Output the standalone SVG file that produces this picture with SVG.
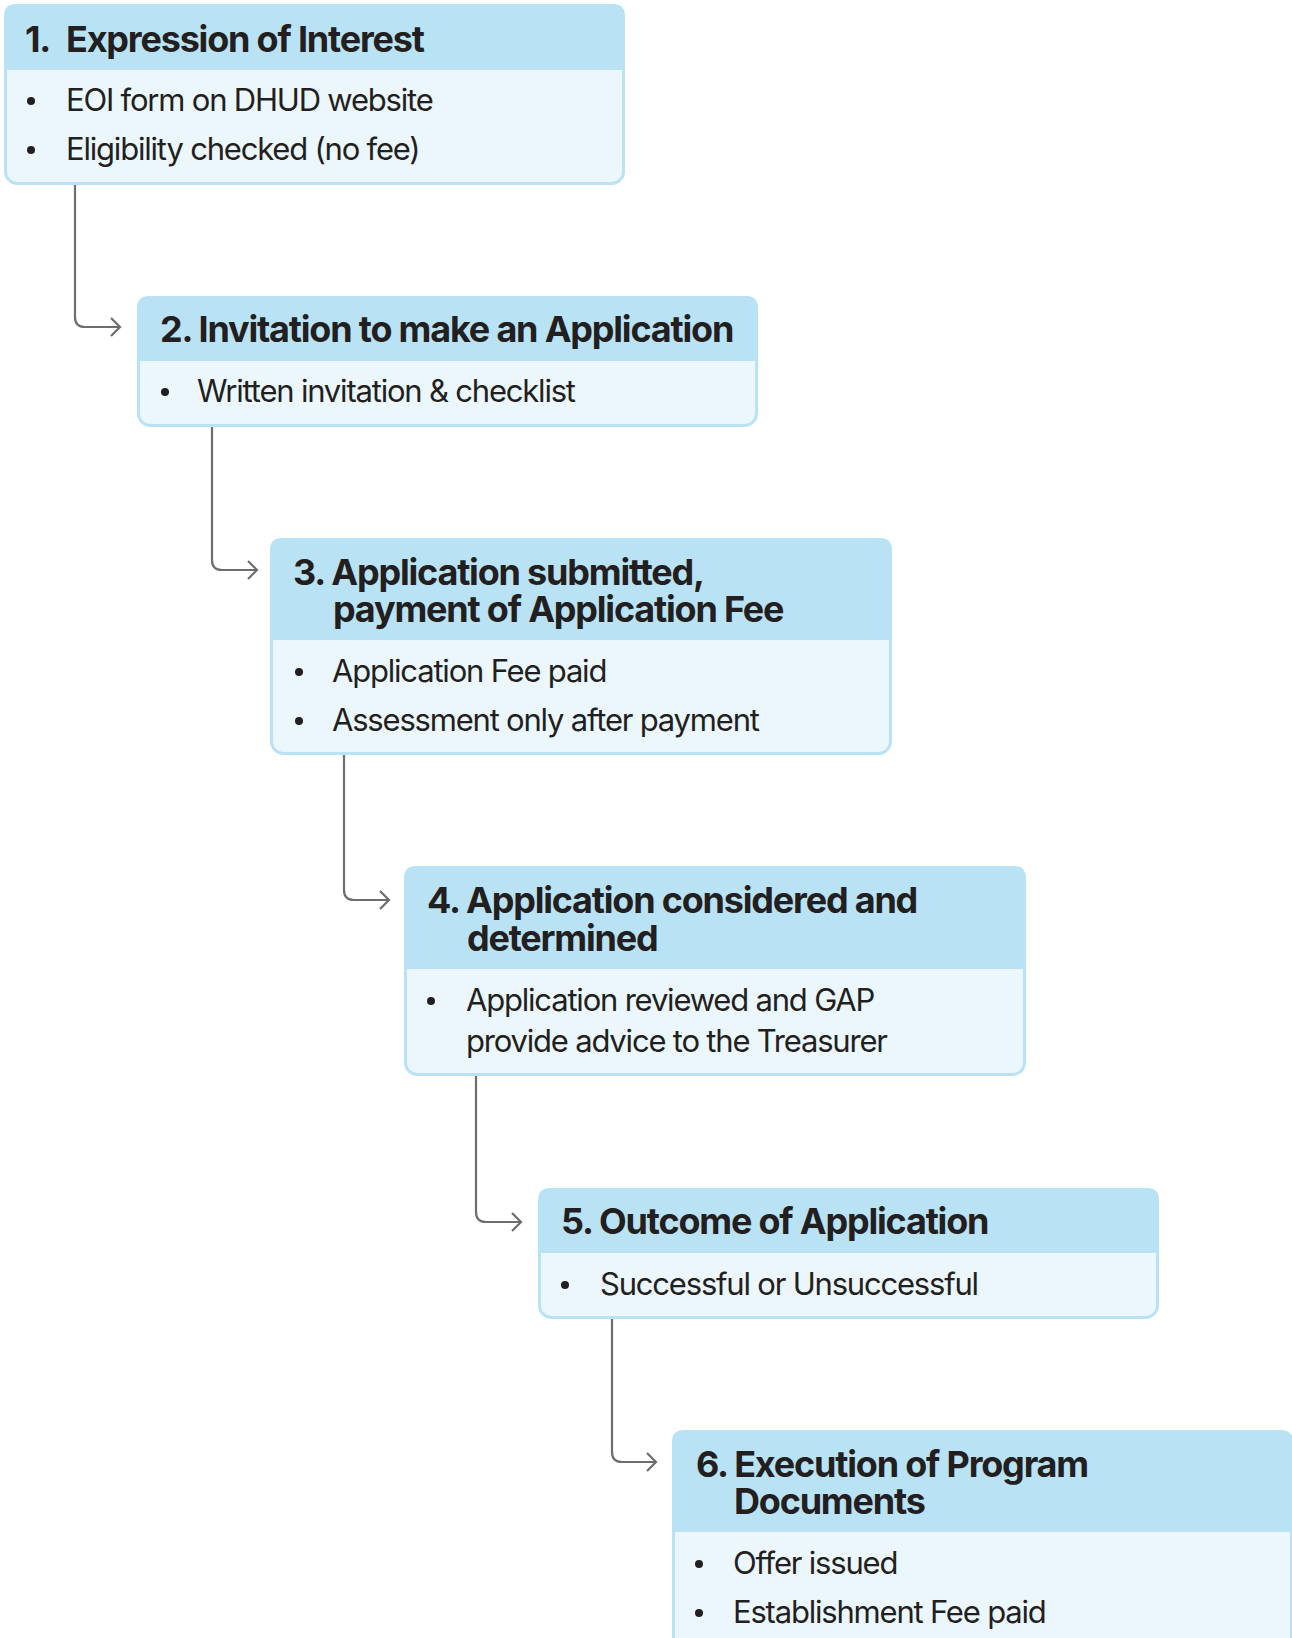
<svg xmlns="http://www.w3.org/2000/svg" width="1292" height="1638" viewBox="0 0 1292 1638">
<defs>
<style>
.body{fill:#ebf7fd;stroke:#b9e3f5;stroke-width:3}
.head{fill:#b9e3f5}
.t{font-family:Inter,"Liberation Sans",sans-serif;font-weight:700;font-size:36px;fill:#231f20;letter-spacing:-1.2px}
.b{font-family:Inter,"Liberation Sans",sans-serif;font-weight:400;font-size:31px;fill:#231f20;letter-spacing:-1.2px}
.dot{fill:#231f20}
.con{fill:none;stroke:#6d6d6d;stroke-width:2.2}
</style>
<marker id="arr" markerWidth="14" markerHeight="22" refX="12" refY="11" orient="auto" markerUnits="userSpaceOnUse">
<path d="M3,2 L12,11 L3,20" fill="none" stroke="#6d6d6d" stroke-width="2.2"/>
</marker>
</defs>

<g id="connectors">
<path class="con" d="M75,185 V317 Q75,327 85,327 H120" marker-end="url(#arr)"/>
<path class="con" d="M212,427 V560 Q212,570 222,570 H257" marker-end="url(#arr)"/>
<path class="con" d="M344,755 V890 Q344,900 354,900 H389" marker-end="url(#arr)"/>
<path class="con" d="M476,1076 V1212 Q476,1222 486,1222 H521" marker-end="url(#arr)"/>
<path class="con" d="M612,1319 V1452 Q612,1462 622,1462 H656" marker-end="url(#arr)"/>
</g>

<g id="node1">
<rect class="body" x="5.5" y="5.5" width="618" height="178" rx="12"/>
<path class="head" d="M4,70 V16 Q4,4 16,4 H613 Q625,4 625,16 V70 Z"/>
<text class="t" x="25" y="52">1.<tspan x="66">Expression of Interest</tspan></text>
<circle class="dot" cx="31" cy="101" r="4"/>
<text class="b" x="66" y="111">EOI form on DHUD website</text>
<circle class="dot" cx="31" cy="150" r="4"/>
<text class="b" x="66" y="160">Eligibility checked (no fee)</text>
</g>

<g id="node2">
<rect class="body" x="138.5" y="297.5" width="618" height="128" rx="12"/>
<path class="head" d="M137,361 V308 Q137,296 149,296 H746 Q758,296 758,308 V361 Z"/>
<text class="t" x="160" y="342">2. Invitation to make an Application</text>
<circle class="dot" cx="165" cy="392" r="4"/>
<text class="b" x="197" y="402">Written invitation &amp; checklist</text>
</g>

<g id="node3">
<rect class="body" x="271.5" y="539.5" width="619" height="214" rx="12"/>
<path class="head" d="M270,640 V550 Q270,538 282,538 H880 Q892,538 892,550 V640 Z"/>
<text class="t" x="293" y="585">3. Application submitted,</text>
<text class="t" x="333" y="622">payment of Application Fee</text>
<circle class="dot" cx="299" cy="672" r="4"/>
<text class="b" x="332" y="682">Application Fee paid</text>
<circle class="dot" cx="299" cy="721" r="4"/>
<text class="b" x="332" y="731">Assessment only after payment</text>
</g>

<g id="node4">
<rect class="body" x="405.5" y="867.5" width="619" height="207" rx="12"/>
<path class="head" d="M404,969 V878 Q404,866 416,866 H1014 Q1026,866 1026,878 V969 Z"/>
<text class="t" x="427" y="913">4. Application considered and</text>
<text class="t" x="467" y="951">determined</text>
<circle class="dot" cx="431" cy="1001" r="4"/>
<text class="b" x="466" y="1011">Application reviewed and GAP</text>
<text class="b" x="466" y="1052">provide advice to the Treasurer</text>
</g>

<g id="node5">
<rect class="body" x="539.5" y="1189.5" width="618" height="128" rx="12"/>
<path class="head" d="M538,1253 V1200 Q538,1188 550,1188 H1147 Q1159,1188 1159,1200 V1253 Z"/>
<text class="t" x="561" y="1234">5. Outcome of Application</text>
<circle class="dot" cx="565" cy="1285" r="4"/>
<text class="b" x="600" y="1295">Successful or Unsuccessful</text>
</g>

<g id="node6">
<rect class="body" x="673.5" y="1431.5" width="618" height="240" rx="12"/>
<path class="head" d="M672,1532 V1442 Q672,1430 684,1430 H1281 Q1293,1430 1293,1442 V1532 Z"/>
<text class="t" x="696" y="1477">6. Execution of Program</text>
<text class="t" x="734" y="1514">Documents</text>
<circle class="dot" cx="699" cy="1564" r="4"/>
<text class="b" x="733" y="1574">Offer issued</text>
<circle class="dot" cx="699" cy="1613" r="4"/>
<text class="b" x="733" y="1623">Establishment Fee paid</text>
</g>
</svg>
